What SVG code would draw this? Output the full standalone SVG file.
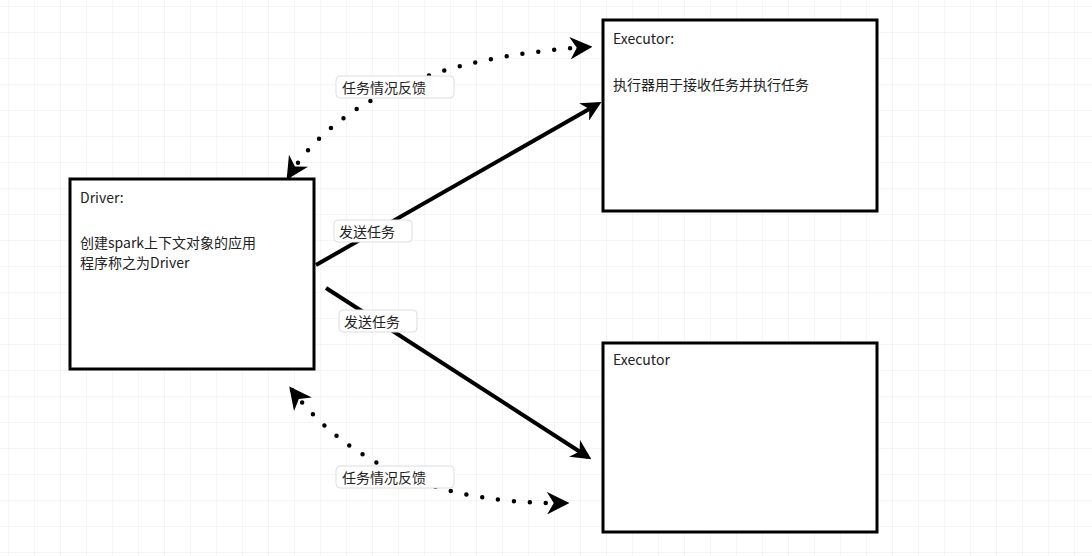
<svg xmlns="http://www.w3.org/2000/svg" width="1092" height="556" viewBox="0 0 1092 556">
<defs>
<pattern id="grid" width="26" height="26" patternUnits="userSpaceOnUse" x="8" y="6"><path d="M26 0H0V26" fill="none" stroke="#ececec" stroke-width="1"/></pattern>
<marker id="ah" viewBox="0 0 10 10" refX="8" refY="5" markerWidth="5" markerHeight="5" orient="auto-start-reverse"><path d="M0 0L10 5L0 10L3 5z" fill="#000"/></marker>
<style>
.box{fill:#fff;stroke:#000;stroke-width:3}
.t{font-family:"Noto Sans CJK SC","Liberation Sans",sans-serif;font-size:14px;fill:#222}
.lbl{fill:#fff;stroke:#ddd;stroke-width:1}
.solid{fill:none;stroke:#000;stroke-width:4;marker-end:url(#ah)}
.dot{fill:none;stroke:#000;stroke-width:4.5;stroke-linecap:round;stroke-dasharray:0 16;marker-end:url(#ah);marker-start:url(#ah)}
</style>
</defs>
<rect width="1092" height="556" fill="#fff"/>
<rect width="1092" height="556" fill="url(#grid)"/>
<g id="connectors">
<path class="dot" d="M289,176 Q360,62 588,47"/>
<path class="dot" d="M292,390 Q380,505 565,503"/>
<path class="solid" d="M316,265 L598,104"/>
<path class="solid" d="M326,288 L588,457"/>
<rect class="lbl" x="336" y="76" width="118" height="22" rx="4"/>
<text class="t" x="342" y="93">任务情况反馈</text>
<rect class="lbl" x="336" y="466" width="118" height="22" rx="4"/>
<text class="t" x="342" y="483">任务情况反馈</text>
<rect class="lbl" x="334" y="220" width="78" height="22" rx="4"/>
<text class="t" x="339" y="237">发送任务</text>
<rect class="lbl" x="339" y="310" width="78" height="22" rx="4"/>
<text class="t" x="344" y="327">发送任务</text>
</g>
<g id="driver">
<rect class="box" x="70" y="179" width="244" height="190"/>
<text class="t" x="80" y="203">Driver:</text>
<text class="t" x="80" y="248">创建spark上下文对象的应用</text>
<text class="t" x="80" y="268">程序称之为Driver</text>
</g>
<g id="executor1">
<rect class="box" x="603" y="20" width="274" height="191"/>
<text class="t" x="613" y="44">Executor:</text>
<text class="t" x="613" y="90">执行器用于接收任务并执行任务</text>
</g>
<g id="executor2">
<rect class="box" x="603" y="343" width="274" height="189"/>
<text class="t" x="613" y="365">Executor</text>
</g>
</svg>
